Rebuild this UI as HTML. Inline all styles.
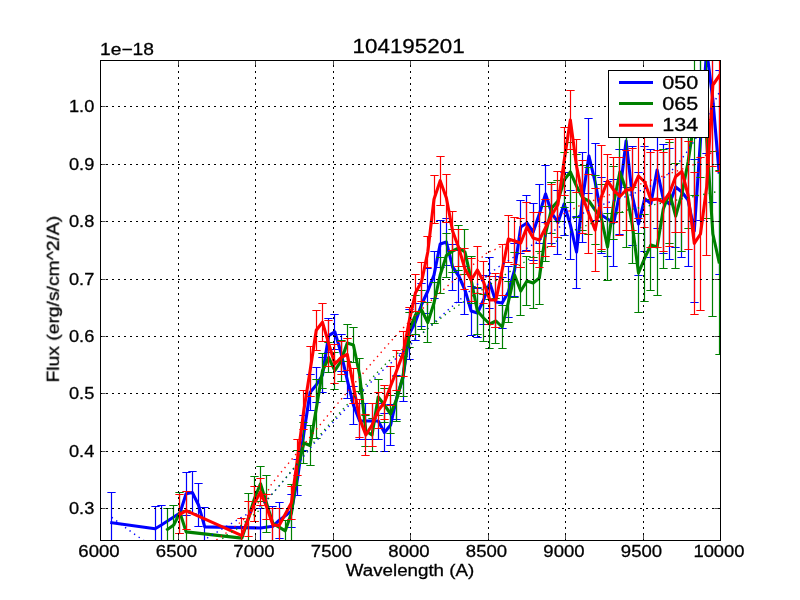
<!DOCTYPE html><html><head><meta charset="utf-8"><style>html,body{margin:0;padding:0;background:#fff;}svg{display:block;}text{font-family:"Liberation Sans",sans-serif;fill:#000;stroke:#000;stroke-width:0.3px;}</style></head><body><svg width="800" height="600" viewBox="0 0 800 600"><rect x="0" y="0" width="800" height="600" fill="#fff"/><defs><filter id="gs" filterUnits="userSpaceOnUse" x="0" y="0" width="800" height="600"><feColorMatrix type="matrix" values="0.333 0.333 0.333 0 0 0.333 0.333 0.333 0 0 0.333 0.333 0.333 0 0 0 0 0 1 0"/></filter><clipPath id="ax"><rect x="100" y="60" width="621" height="481"/></clipPath></defs><g clip-path="url(#ax)"><path d="M111.76 522.7 L155.14 528.75 L161.34 525 L179.93 513 L186.12 493.75 L192.32 492.5 L198.52 505 L204.72 526.9 L260.49 528 L272.88 526.25 L279.08 520.4 L291.47 511 L297.67 477.5 L303.87 433 L310.06 392.5 L316.26 385 L322.46 375 L328.66 335.6 L334.85 331.9 L341.05 353 L347.25 380 L353.44 405 L359.64 421 L365.84 421 L372.03 421 L378.23 421 L384.43 432.5 L390.62 425 L396.82 397.5 L403.02 377.5 L409.22 334 L415.41 322 L421.61 304.5 L427.81 291 L434 275 L440.2 244 L446.4 242 L452.59 267 L458.79 276 L464.99 290 L471.19 311 L477.38 313 L483.58 300 L489.78 283 L495.97 302 L502.17 303 L508.37 292 L514.57 270 L520.76 227 L526.96 223 L533.16 232 L539.35 214 L545.55 194 L551.75 213 L557.94 222.4 L564.14 204 L570.34 224.9 L576.53 252 L582.73 197.5 L588.93 156 L595.13 182 L601.32 215 L607.52 219 L613.72 223 L619.91 192 L626.11 141 L632.31 195.8 L638.5 224 L644.7 198.7 L650.9 203.5 L657.1 170 L663.29 199 L669.49 204 L675.69 187 L681.88 192 L688.08 200 L694.28 231 L700.48 140 L706.67 50 L712.87 100 L719.07 172" stroke="#0000ff" stroke-width="3.1" fill="none" stroke-linejoin="round" stroke-linecap="square"/><path d="M111.5 492.2 V553.2M155.5 506.55 V550.95M161.5 505.3 V544.7M186.5 472.25 V515.25M192.5 471.2 V513.8M198.5 483.6 V526.4M204.5 507.7 V546.1M260.5 508.75 V547.25M272.5 506.25 V546.25M279.5 502.4 V538.4M291.5 494.5 V527.5M297.5 459.5 V495.5M303.5 415.18 V450.82M310.5 374.86 V410.14M316.5 367.54 V402.46M322.5 357.72 V392.28M328.5 318.5 V352.7M334.5 314.32 V349.47M341.5 334.95 V371.05M347.5 361.48 V398.52M353.5 386 V424M359.5 403 V439M365.5 403 V439M372.5 403 V439M378.5 403 V439M384.5 413.1 V451.9M390.5 404.2 V445.8M396.5 375.3 V419.7M403.5 353.9 V401.1M409.5 309 V359M415.5 303.5 V340.5M421.5 283 V326M427.5 268.6 V313.4M434.5 251.7 V298.3M440.5 220.8 V267.2M446.5 218.9 V265.1M452.5 244 V290M458.5 250 V302M464.5 266 V314M471.5 286.72 V335.28M477.5 288.44 V337.56M483.5 275.17 V324.83M489.5 257.89 V308.11M495.5 276.61 V327.39M502.5 277.33 V328.67M508.5 266.06 V317.94M514.5 243.78 V296.22M520.5 200.5 V253.5M526.5 195.25 V250.75M533.5 203.32 V260.68M539.5 184.4 V243.6M545.5 165.25 V222.75M551.5 182.5 V243.5M557.5 190.4 V254.4M564.5 172.4 V235.6M570.5 190.4 V259.4M576.5 216 V288M582.5 152.75 V242.25M588.5 118.4 V193.6M595.5 143.4 V220.6M601.5 177 V253M607.5 181.75 V256.25M613.5 179.6 V266.4M619.5 149.5 V234.5M626.5 94.95 V187.05M632.5 146.2 V245.4M638.5 172.6 V275.4M644.5 146.2 V251.2M650.5 149.75 V257.25M657.5 111.5 V228.5M663.5 144.5 V253.5M669.5 148.6 V259.4M675.5 126.5 V247.5M681.5 126.5 V257.5M688.5 133.75 V266.25M694.5 159.2 V302.8M700.5 60 V220M706.5 -53 V153M712.5 -2.5 V202.5M719.5 70 V274" stroke="#0000ff" stroke-width="1.2" fill="none"/><path d="M107.33 492.5 H115.67 M107.33 553.5 H115.67M151.33 506.5 H159.67 M151.33 550.5 H159.67M157.33 505.5 H165.67 M157.33 544.5 H165.67M182.33 472.5 H190.67 M182.33 515.5 H190.67M188.33 471.5 H196.67 M188.33 513.5 H196.67M194.33 483.5 H202.67 M194.33 526.5 H202.67M200.33 507.5 H208.67 M200.33 546.5 H208.67M256.33 508.5 H264.67 M256.33 547.5 H264.67M268.33 506.5 H276.67 M268.33 546.5 H276.67M275.33 502.5 H283.67 M275.33 538.5 H283.67M287.33 494.5 H295.67 M287.33 527.5 H295.67M293.33 459.5 H301.67 M293.33 495.5 H301.67M299.33 415.5 H307.67 M299.33 450.5 H307.67M306.33 374.5 H314.67 M306.33 410.5 H314.67M312.33 367.5 H320.67 M312.33 402.5 H320.67M318.33 357.5 H326.67 M318.33 392.5 H326.67M324.33 318.5 H332.67 M324.33 352.5 H332.67M330.33 314.5 H338.67 M330.33 349.5 H338.67M337.33 334.5 H345.67 M337.33 371.5 H345.67M343.33 361.5 H351.67 M343.33 398.5 H351.67M349.33 386.5 H357.67 M349.33 424.5 H357.67M355.33 403.5 H363.67 M355.33 439.5 H363.67M361.33 403.5 H369.67 M361.33 439.5 H369.67M368.33 403.5 H376.67 M368.33 439.5 H376.67M374.33 403.5 H382.67 M374.33 439.5 H382.67M380.33 413.5 H388.67 M380.33 451.5 H388.67M386.33 404.5 H394.67 M386.33 445.5 H394.67M392.33 375.5 H400.67 M392.33 419.5 H400.67M399.33 353.5 H407.67 M399.33 401.5 H407.67M405.33 309.5 H413.67 M405.33 359.5 H413.67M411.33 303.5 H419.67 M411.33 340.5 H419.67M417.33 283.5 H425.67 M417.33 326.5 H425.67M423.33 268.5 H431.67 M423.33 313.5 H431.67M430.33 251.5 H438.67 M430.33 298.5 H438.67M436.33 220.5 H444.67 M436.33 267.5 H444.67M442.33 218.5 H450.67 M442.33 265.5 H450.67M448.33 244.5 H456.67 M448.33 290.5 H456.67M454.33 250.5 H462.67 M454.33 302.5 H462.67M460.33 266.5 H468.67 M460.33 314.5 H468.67M467.33 286.5 H475.67 M467.33 335.5 H475.67M473.33 288.5 H481.67 M473.33 337.5 H481.67M479.33 275.5 H487.67 M479.33 324.5 H487.67M485.33 257.5 H493.67 M485.33 308.5 H493.67M491.33 276.5 H499.67 M491.33 327.5 H499.67M498.33 277.5 H506.67 M498.33 328.5 H506.67M504.33 266.5 H512.67 M504.33 317.5 H512.67M510.33 243.5 H518.67 M510.33 296.5 H518.67M516.33 200.5 H524.67 M516.33 253.5 H524.67M522.33 195.5 H530.67 M522.33 250.5 H530.67M529.33 203.5 H537.67 M529.33 260.5 H537.67M535.33 184.5 H543.67 M535.33 243.5 H543.67M541.33 165.5 H549.67 M541.33 222.5 H549.67M547.33 182.5 H555.67 M547.33 243.5 H555.67M553.33 190.5 H561.67 M553.33 254.5 H561.67M560.33 172.5 H568.67 M560.33 235.5 H568.67M566.33 190.5 H574.67 M566.33 259.5 H574.67M572.33 216.5 H580.67 M572.33 288.5 H580.67M578.33 152.5 H586.67 M578.33 242.5 H586.67M584.33 118.5 H592.67 M584.33 193.5 H592.67M591.33 143.5 H599.67 M591.33 220.5 H599.67M597.33 177.5 H605.67 M597.33 253.5 H605.67M603.33 181.5 H611.67 M603.33 256.5 H611.67M609.33 179.5 H617.67 M609.33 266.5 H617.67M615.33 149.5 H623.67 M615.33 234.5 H623.67M622.33 94.5 H630.67 M622.33 187.5 H630.67M628.33 146.5 H636.67 M628.33 245.5 H636.67M634.33 172.5 H642.67 M634.33 275.5 H642.67M640.33 146.5 H648.67 M640.33 251.5 H648.67M646.33 149.5 H654.67 M646.33 257.5 H654.67M653.33 111.5 H661.67 M653.33 228.5 H661.67M659.33 144.5 H667.67 M659.33 253.5 H667.67M665.33 148.5 H673.67 M665.33 259.5 H673.67M671.33 126.5 H679.67 M671.33 247.5 H679.67M677.33 126.5 H685.67 M677.33 257.5 H685.67M684.33 133.5 H692.67 M684.33 266.5 H692.67M690.33 159.5 H698.67 M690.33 302.5 H698.67M696.33 60.5 H704.67 M696.33 220.5 H704.67M702.33 -52.5 H710.67 M702.33 153.5 H710.67M708.33 -2.5 H716.67 M708.33 202.5 H716.67M715.33 70.5 H723.67 M715.33 274.5 H723.67" stroke="#0000ff" stroke-width="1" fill="none"/><path d="M167.53 529.4 L173.73 525 L179.93 512.5 L186.12 531.9 L241.9 538.1 L248.09 519.3 L254.29 499 L260.49 483.75 L266.69 503.75 L272.88 523.3 L285.28 530.8 L291.47 513 L297.67 467.8 L303.87 443 L310.06 445.5 L316.26 408.75 L322.46 371 L328.66 357.5 L334.85 370.6 L341.05 361 L347.25 343.1 L353.44 345 L359.64 375 L365.84 431 L372.03 435 L378.23 397 L384.43 405 L390.62 414 L396.82 398.75 L403.02 376.25 L409.22 330 L415.41 315 L421.61 310 L427.81 322.5 L434 303 L440.2 275 L446.4 255.5 L452.59 251 L458.79 248 L464.99 252 L471.19 280 L477.38 311 L483.58 318 L489.78 324 L495.97 321 L502.17 327 L508.37 302 L514.57 275 L520.76 291 L526.96 281 L533.16 283 L539.35 278 L545.55 233.75 L551.75 208 L557.94 201 L564.14 180 L570.34 172 L576.53 186 L582.73 198 L588.93 201 L595.13 210 L601.32 218 L607.52 247 L613.72 203 L619.91 172 L626.11 190 L632.31 225 L638.5 273 L644.7 258 L650.9 245 L657.1 247 L663.29 209 L669.49 193 L675.69 216 L681.88 194 L688.08 162 L694.28 120 L700.48 100 L706.67 138 L712.87 234 L719.07 262" stroke="#008000" stroke-width="3.1" fill="none" stroke-linejoin="round" stroke-linecap="square"/><path d="M167.5 508.4 V550.4M173.5 505 V545M179.5 492 V533M186.5 510.92 V552.88M248.5 493.5 V545.1M254.5 476.25 V521.75M260.5 466.5 V501M266.5 475.25 V532.25M285.5 520.8 V540.8M291.5 484.4 V541.6M297.5 450.2 V485.4M303.5 422.5 V463.5M310.5 425.25 V465.75M316.5 379 V438.5M322.5 353.5 V388.5M328.5 342.5 V372.5M334.5 352.2 V389M341.5 340.5 V381.5M347.5 324.3 V361.9M353.5 327.37 V362.63M359.5 358.53 V391.47M365.5 415.7 V446.3M372.5 418.35 V451.65M378.5 379 V415M384.5 388 V422M390.5 395 V433M396.5 376.15 V421.35M403.5 356.05 V396.45M409.5 312.2 V347.8M415.5 295.5 V334.5M421.5 290.17 V329.83M427.5 302.33 V342.67M434.5 282.5 V323.5M440.5 257 V293M446.5 233.5 V277.5M452.5 229.3 V272.7M458.5 225.86 V270.14M464.5 229.42 V274.58M471.5 256.98 V303.02M477.5 287.54 V334.46M483.5 294.1 V341.9M489.5 299.9 V348.1M495.5 298.13 V343.87M502.5 305.37 V348.63M508.5 281.6 V322.4M514.5 252.8 V297.2M520.5 267 V315M526.5 256.12 V305.88M533.5 257.25 V308.75M539.5 251.38 V304.62M545.5 206.25 V261.25M551.5 182.5 V233.5M557.5 180.4 V221.6M564.5 152.25 V207.75M570.5 142 V202M576.5 154.9 V217.1M582.5 165.8 V230.2M588.5 167.7 V234.3M595.5 175.6 V244.4M601.5 184.75 V251.25M607.5 213.75 V280.25M613.5 166.38 V239.62M619.5 132 V212M626.5 133 V247M632.5 187 V263M638.5 233.25 V312.75M644.5 214.75 V301.25M650.5 199.18 V290.82M657.5 198.6 V295.4M663.5 149.2 V268.8M669.5 142.6 V243.4M675.5 163.2 V268.8M681.5 137 V251M688.5 96 V228M694.5 45 V195M700.5 22.4 V177.6M706.5 57.8 V218.2M712.5 151.2 V316.8M719.5 170 V354" stroke="#008000" stroke-width="1.2" fill="none"/><path d="M163.33 508.5 H171.67 M163.33 550.5 H171.67M169.33 505.5 H177.67 M169.33 545.5 H177.67M175.33 492.5 H183.67 M175.33 533.5 H183.67M182.33 510.5 H190.67 M182.33 552.5 H190.67M244.33 493.5 H252.67 M244.33 545.5 H252.67M250.33 476.5 H258.67 M250.33 521.5 H258.67M256.33 466.5 H264.67 M256.33 501.5 H264.67M262.33 475.5 H270.67 M262.33 532.5 H270.67M281.33 520.5 H289.67 M281.33 540.5 H289.67M287.33 484.5 H295.67 M287.33 541.5 H295.67M293.33 450.5 H301.67 M293.33 485.5 H301.67M299.33 422.5 H307.67 M299.33 463.5 H307.67M306.33 425.5 H314.67 M306.33 465.5 H314.67M312.33 379.5 H320.67 M312.33 438.5 H320.67M318.33 353.5 H326.67 M318.33 388.5 H326.67M324.33 342.5 H332.67 M324.33 372.5 H332.67M330.33 352.5 H338.67 M330.33 389.5 H338.67M337.33 340.5 H345.67 M337.33 381.5 H345.67M343.33 324.5 H351.67 M343.33 361.5 H351.67M349.33 327.5 H357.67 M349.33 362.5 H357.67M355.33 358.5 H363.67 M355.33 391.5 H363.67M361.33 415.5 H369.67 M361.33 446.5 H369.67M368.33 418.5 H376.67 M368.33 451.5 H376.67M374.33 379.5 H382.67 M374.33 415.5 H382.67M380.33 388.5 H388.67 M380.33 422.5 H388.67M386.33 395.5 H394.67 M386.33 433.5 H394.67M392.33 376.5 H400.67 M392.33 421.5 H400.67M399.33 356.5 H407.67 M399.33 396.5 H407.67M405.33 312.5 H413.67 M405.33 347.5 H413.67M411.33 295.5 H419.67 M411.33 334.5 H419.67M417.33 290.5 H425.67 M417.33 329.5 H425.67M423.33 302.5 H431.67 M423.33 342.5 H431.67M430.33 282.5 H438.67 M430.33 323.5 H438.67M436.33 257.5 H444.67 M436.33 293.5 H444.67M442.33 233.5 H450.67 M442.33 277.5 H450.67M448.33 229.5 H456.67 M448.33 272.5 H456.67M454.33 225.5 H462.67 M454.33 270.5 H462.67M460.33 229.5 H468.67 M460.33 274.5 H468.67M467.33 256.5 H475.67 M467.33 303.5 H475.67M473.33 287.5 H481.67 M473.33 334.5 H481.67M479.33 294.5 H487.67 M479.33 341.5 H487.67M485.33 299.5 H493.67 M485.33 348.5 H493.67M491.33 298.5 H499.67 M491.33 343.5 H499.67M498.33 305.5 H506.67 M498.33 348.5 H506.67M504.33 281.5 H512.67 M504.33 322.5 H512.67M510.33 252.5 H518.67 M510.33 297.5 H518.67M516.33 267.5 H524.67 M516.33 315.5 H524.67M522.33 256.5 H530.67 M522.33 305.5 H530.67M529.33 257.5 H537.67 M529.33 308.5 H537.67M535.33 251.5 H543.67 M535.33 304.5 H543.67M541.33 206.5 H549.67 M541.33 261.5 H549.67M547.33 182.5 H555.67 M547.33 233.5 H555.67M553.33 180.5 H561.67 M553.33 221.5 H561.67M560.33 152.5 H568.67 M560.33 207.5 H568.67M566.33 142.5 H574.67 M566.33 202.5 H574.67M572.33 154.5 H580.67 M572.33 217.5 H580.67M578.33 165.5 H586.67 M578.33 230.5 H586.67M584.33 167.5 H592.67 M584.33 234.5 H592.67M591.33 175.5 H599.67 M591.33 244.5 H599.67M597.33 184.5 H605.67 M597.33 251.5 H605.67M603.33 213.5 H611.67 M603.33 280.5 H611.67M609.33 166.5 H617.67 M609.33 239.5 H617.67M615.33 132.5 H623.67 M615.33 212.5 H623.67M622.33 133.5 H630.67 M622.33 247.5 H630.67M628.33 187.5 H636.67 M628.33 263.5 H636.67M634.33 233.5 H642.67 M634.33 312.5 H642.67M640.33 214.5 H648.67 M640.33 301.5 H648.67M646.33 199.5 H654.67 M646.33 290.5 H654.67M653.33 198.5 H661.67 M653.33 295.5 H661.67M659.33 149.5 H667.67 M659.33 268.5 H667.67M665.33 142.5 H673.67 M665.33 243.5 H673.67M671.33 163.5 H679.67 M671.33 268.5 H679.67M677.33 137.5 H685.67 M677.33 251.5 H685.67M684.33 96.5 H692.67 M684.33 228.5 H692.67M690.33 45.5 H698.67 M690.33 195.5 H698.67M696.33 22.5 H704.67 M696.33 177.5 H704.67M702.33 57.5 H710.67 M702.33 218.5 H710.67M708.33 151.5 H716.67 M708.33 316.5 H716.67M715.33 170.5 H723.67 M715.33 354.5 H723.67" stroke="#008000" stroke-width="1" fill="none"/><path d="M179.93 514.4 L186.12 510.6 L241.9 535.6 L248.09 518.9 L254.29 503.5 L260.49 492 L266.69 507 L272.88 525 L279.08 525.5 L291.47 502.8 L297.67 457.3 L303.87 410 L310.06 371 L316.26 330.3 L322.46 322.2 L328.66 343.4 L334.85 364 L341.05 357.5 L347.25 354.4 L353.44 386 L359.64 418.75 L365.84 435 L372.03 425 L378.23 410.5 L384.43 402.5 L390.62 386 L396.82 370.25 L403.02 353.75 L409.22 321 L415.41 293 L421.61 281.5 L427.81 252 L434 199.3 L440.2 180.7 L446.4 198 L452.59 231 L458.79 248 L464.99 269 L471.19 280 L477.38 270 L483.58 282 L489.78 300 L495.97 300 L502.17 270 L508.37 239 L514.57 241 L520.76 243 L526.96 227 L533.16 238 L539.35 240 L545.55 227.8 L551.75 215.3 L557.94 204.5 L564.14 161 L570.34 120 L576.53 166 L582.73 197 L588.93 214 L595.13 230 L601.32 197 L607.52 181 L613.72 190 L619.91 196.5 L626.11 190 L632.31 189.6 L638.5 176 L644.7 182 L650.9 200 L657.1 199 L663.29 202 L669.49 193 L675.69 176.5 L681.88 171.5 L688.08 195 L694.28 243.4 L700.48 234 L706.67 187 L712.87 85 L719.07 76" stroke="#ff0000" stroke-width="3.1" fill="none" stroke-linejoin="round" stroke-linecap="square"/><path d="M179.5 494.9 V533.9M186.5 491.6 V529.6M241.5 518.5 V552.7M248.5 501.3 V536.5M254.5 486 V521M260.5 478.25 V505.75M266.5 494.4 V519.6M272.5 508 V542M279.5 508.75 V542.25M291.5 486.2 V519.4M297.5 439.3 V475.3M303.5 390.6 V429.4M310.5 346 V396M316.5 310.3 V350.3M322.5 303.2 V341.2M328.5 320 V366.8M334.5 344.05 V383.95M341.5 341 V374M347.5 338.4 V370.4M353.5 368.57 V403.43M359.5 399.9 V437.6M365.5 414.73 V455.27M372.5 403.3 V446.7M378.5 392.5 V428.5M384.5 385.25 V419.75M390.5 366.25 V405.75M396.5 350.25 V390.25M403.5 331.25 V376.25M409.5 307 V335M415.5 274.5 V311.5M421.5 262 V301M427.5 236.4 V267.6M434.5 175.6 V223M440.5 156.4 V205M446.5 174 V222M452.5 211.6 V250.4M458.5 229.6 V266.4M464.5 248.9 V289.1M471.5 258.2 V301.8M477.5 246.5 V293.5M483.5 261 V303M489.5 276 V324M495.5 273 V327M502.5 244.75 V295.25M508.5 215.5 V262.5M514.5 217.13 V264.87M520.5 218.77 V267.23M526.5 202.4 V251.6M533.5 212.13 V263.87M539.5 212.87 V267.13M545.5 199.4 V256.2M551.5 184.4 V246.2M557.5 171.5 V237.5M564.5 127 V195M570.5 90.4 V149.6M576.5 139.4 V192.6M582.5 160.5 V233.5M588.5 174.5 V253.5M595.5 188.5 V271.5M601.5 145 V249M607.5 154.4 V207.6M613.5 157.32 V222.68M619.5 157.75 V235.25M626.5 150 V230M632.5 148.35 V230.85M638.5 133.5 V218.5M644.5 136.75 V227.25M650.5 152.75 V247.25M657.5 150.75 V247.25M663.5 152.4 V251.6M669.5 139.5 V246.5M675.5 120.75 V232.25M681.5 110.75 V232.25M688.5 141 V249M694.5 172.4 V314.4M700.5 157.6 V310.4M706.5 119 V255M712.5 3.5 V166.5M719.5 -19 V171" stroke="#ff0000" stroke-width="1.2" fill="none"/><path d="M175.33 494.5 H183.67 M175.33 533.5 H183.67M182.33 491.5 H190.67 M182.33 529.5 H190.67M237.33 518.5 H245.67 M237.33 552.5 H245.67M244.33 501.5 H252.67 M244.33 536.5 H252.67M250.33 486.5 H258.67 M250.33 521.5 H258.67M256.33 478.5 H264.67 M256.33 505.5 H264.67M262.33 494.5 H270.67 M262.33 519.5 H270.67M268.33 508.5 H276.67 M268.33 542.5 H276.67M275.33 508.5 H283.67 M275.33 542.5 H283.67M287.33 486.5 H295.67 M287.33 519.5 H295.67M293.33 439.5 H301.67 M293.33 475.5 H301.67M299.33 390.5 H307.67 M299.33 429.5 H307.67M306.33 346.5 H314.67 M306.33 396.5 H314.67M312.33 310.5 H320.67 M312.33 350.5 H320.67M318.33 303.5 H326.67 M318.33 341.5 H326.67M324.33 320.5 H332.67 M324.33 366.5 H332.67M330.33 344.5 H338.67 M330.33 383.5 H338.67M337.33 341.5 H345.67 M337.33 374.5 H345.67M343.33 338.5 H351.67 M343.33 370.5 H351.67M349.33 368.5 H357.67 M349.33 403.5 H357.67M355.33 399.5 H363.67 M355.33 437.5 H363.67M361.33 414.5 H369.67 M361.33 455.5 H369.67M368.33 403.5 H376.67 M368.33 446.5 H376.67M374.33 392.5 H382.67 M374.33 428.5 H382.67M380.33 385.5 H388.67 M380.33 419.5 H388.67M386.33 366.5 H394.67 M386.33 405.5 H394.67M392.33 350.5 H400.67 M392.33 390.5 H400.67M399.33 331.5 H407.67 M399.33 376.5 H407.67M405.33 307.5 H413.67 M405.33 335.5 H413.67M411.33 274.5 H419.67 M411.33 311.5 H419.67M417.33 262.5 H425.67 M417.33 301.5 H425.67M423.33 236.5 H431.67 M423.33 267.5 H431.67M430.33 175.5 H438.67 M430.33 223.5 H438.67M436.33 156.5 H444.67 M436.33 205.5 H444.67M442.33 174.5 H450.67 M442.33 222.5 H450.67M448.33 211.5 H456.67 M448.33 250.5 H456.67M454.33 229.5 H462.67 M454.33 266.5 H462.67M460.33 248.5 H468.67 M460.33 289.5 H468.67M467.33 258.5 H475.67 M467.33 301.5 H475.67M473.33 246.5 H481.67 M473.33 293.5 H481.67M479.33 261.5 H487.67 M479.33 303.5 H487.67M485.33 276.5 H493.67 M485.33 324.5 H493.67M491.33 273.5 H499.67 M491.33 327.5 H499.67M498.33 244.5 H506.67 M498.33 295.5 H506.67M504.33 215.5 H512.67 M504.33 262.5 H512.67M510.33 217.5 H518.67 M510.33 264.5 H518.67M516.33 218.5 H524.67 M516.33 267.5 H524.67M522.33 202.5 H530.67 M522.33 251.5 H530.67M529.33 212.5 H537.67 M529.33 263.5 H537.67M535.33 212.5 H543.67 M535.33 267.5 H543.67M541.33 199.5 H549.67 M541.33 256.5 H549.67M547.33 184.5 H555.67 M547.33 246.5 H555.67M553.33 171.5 H561.67 M553.33 237.5 H561.67M560.33 127.5 H568.67 M560.33 195.5 H568.67M566.33 90.5 H574.67 M566.33 149.5 H574.67M572.33 139.5 H580.67 M572.33 192.5 H580.67M578.33 160.5 H586.67 M578.33 233.5 H586.67M584.33 174.5 H592.67 M584.33 253.5 H592.67M591.33 188.5 H599.67 M591.33 271.5 H599.67M597.33 145.5 H605.67 M597.33 249.5 H605.67M603.33 154.5 H611.67 M603.33 207.5 H611.67M609.33 157.5 H617.67 M609.33 222.5 H617.67M615.33 157.5 H623.67 M615.33 235.5 H623.67M622.33 150.5 H630.67 M622.33 230.5 H630.67M628.33 148.5 H636.67 M628.33 230.5 H636.67M634.33 133.5 H642.67 M634.33 218.5 H642.67M640.33 136.5 H648.67 M640.33 227.5 H648.67M646.33 152.5 H654.67 M646.33 247.5 H654.67M653.33 150.5 H661.67 M653.33 247.5 H661.67M659.33 152.5 H667.67 M659.33 251.5 H667.67M665.33 139.5 H673.67 M665.33 246.5 H673.67M671.33 120.5 H679.67 M671.33 232.5 H679.67M677.33 110.5 H685.67 M677.33 232.5 H685.67M684.33 141.5 H692.67 M684.33 249.5 H692.67M690.33 172.5 H698.67 M690.33 314.5 H698.67M696.33 157.5 H704.67 M696.33 310.5 H704.67M702.33 119.5 H710.67 M702.33 255.5 H710.67M708.33 3.5 H716.67 M708.33 166.5 H716.67M715.33 -18.5 H723.67 M715.33 171.5 H723.67" stroke="#ff0000" stroke-width="1" fill="none"/><path d="M111.7 517.3 L114.07 519.05 L117.17 521.4 L120.86 524.19 L124.98 527.29 L129.4 530.54 L133.95 533.81 L138.5 536.94 L142.9 539.8 L147.33 542.72 L152.03 545.97 L156.88 549.35 L161.79 552.61 L166.66 555.53 L171.39 557.89 L175.87 559.45 L180 560 L183.87 559.26 L187.6 557.34 L191.17 554.56 L194.56 551.25 L197.73 547.73 L200.66 544.33 L203.33 541.38 L205.7 539.2 L207.66 537.74 L209.17 536.68 L210.35 535.9 L211.32 535.33 L212.21 534.84 L213.12 534.36 L214.18 533.78 L215.5 533 L217.05 532.06 L218.71 531.06 L220.45 530.03 L222.25 528.96 L224.09 527.88 L225.94 526.78 L227.78 525.68 L229.6 524.6 L231.4 523.52 L233.22 522.42 L235.06 521.31 L236.89 520.19 L238.73 519.08 L240.57 517.97 L242.39 516.88 L244.2 515.8 L246.01 514.76 L247.83 513.76 L249.66 512.79 L251.47 511.82 L253.26 510.82 L255.02 509.79 L256.74 508.69 L258.4 507.5 L259.93 506.31 L261.3 505.17 L262.58 504.03 L263.85 502.81 L265.18 501.46 L266.65 499.92 L268.31 498.12 L270.25 496 L272.57 493.42 L275.26 490.36 L278.19 486.98 L281.23 483.45 L284.25 479.9 L287.14 476.5 L289.76 473.4 L292 470.75 L293.75 468.66 L295.1 467.01 L296.18 465.66 L297.12 464.46 L298.07 463.26 L299.15 461.9 L300.5 460.23 L302.25 458.1 L304.23 455.68 L306.23 453.2 L308.34 450.56 L310.67 447.68 L313.31 444.49 L316.34 440.91 L319.87 436.86 L324 432.25 L329.03 426.74 L335.02 420.24 L341.65 413.11 L348.61 405.67 L355.59 398.25 L362.27 391.19 L368.34 384.83 L373.5 379.5 L377.61 375.35 L380.91 372.11 L383.64 369.53 L386.06 367.33 L388.41 365.24 L390.94 363.01 L393.88 360.35 L397.5 357 L401.91 352.86 L406.92 348.13 L412.34 343.03 L417.94 337.75 L423.52 332.5 L428.86 327.49 L433.76 322.92 L438 319 L441.47 315.83 L444.33 313.25 L446.75 311.1 L448.94 309.19 L451.07 307.35 L453.33 305.41 L455.91 303.18 L459 300.5 L462.69 297.27 L466.84 293.61 L471.3 289.68 L475.89 285.64 L480.47 281.65 L484.87 277.85 L488.93 274.42 L492.5 271.5 L495.55 269.13 L498.23 267.16 L500.62 265.51 L502.81 264.08 L504.89 262.78 L506.93 261.52 L509.02 260.21 L511.25 258.75 L513.48 257.25 L515.57 255.86 L517.61 254.5 L519.66 253.13 L521.82 251.71 L524.17 250.16 L526.79 248.44 L529.75 246.5 L533.14 244.27 L536.9 241.78 L540.94 239.11 L545.16 236.32 L549.47 233.5 L553.76 230.73 L557.93 228.07 L561.9 225.6 L565.77 223.25 L569.7 220.9 L573.61 218.59 L577.46 216.37 L581.18 214.26 L584.72 212.3 L588.01 210.54 L591 209 L593.52 207.78 L595.56 206.88 L597.28 206.22 L598.85 205.68 L600.44 205.19 L602.22 204.64 L604.35 203.94 L607 203 L610.22 201.86 L613.86 200.62 L617.82 199.3 L621.98 197.89 L626.24 196.41 L630.49 194.84 L634.61 193.2 L638.5 191.5 L642.2 189.82 L645.82 188.19 L649.38 186.53 L652.89 184.78 L656.38 182.85 L659.85 180.66 L663.32 178.14 L666.8 175.2 L670.31 171.84 L673.85 168.12 L677.4 164.09 L680.92 159.79 L684.41 155.27 L687.83 150.57 L691.17 145.73 L694.4 140.8 L697.61 135.48 L700.86 129.61 L704.08 123.42 L707.21 117.14 L710.18 111 L712.93 105.25 L715.39 100.1 L717.5 95.8 L719.24 92.32 L720.65 89.43 L721.78 87.04 L722.69 85.09 L723.42 83.48 L724.02 82.15 L724.53 81.02 L725 80" stroke="#0000ff" stroke-width="1.4" stroke-dasharray="1.39 4.17" fill="none"/><path d="M210 550 L211.36 548.76 L213.23 547.05 L215.45 545 L217.89 542.76 L220.41 540.48 L222.86 538.3 L225.11 536.35 L227 534.8 L228.54 533.66 L229.88 532.8 L231.06 532.15 L232.14 531.61 L233.19 531.11 L234.26 530.57 L235.41 529.89 L236.7 529 L238.13 527.88 L239.66 526.61 L241.25 525.24 L242.87 523.81 L244.49 522.36 L246.07 520.94 L247.58 519.61 L249 518.4 L250.31 517.35 L251.54 516.42 L252.71 515.58 L253.84 514.76 L254.95 513.94 L256.07 513.05 L257.21 512.05 L258.4 510.9 L259.55 509.67 L260.61 508.45 L261.65 507.18 L262.71 505.82 L263.87 504.32 L265.17 502.64 L266.7 500.71 L268.5 498.5 L270.55 496.03 L272.79 493.37 L275.21 490.5 L277.8 487.43 L280.56 484.15 L283.47 480.65 L286.54 476.94 L289.75 473 L293.03 468.87 L296.36 464.58 L299.8 460.08 L303.42 455.36 L307.29 450.39 L311.46 445.15 L316.01 439.61 L321 433.75 L326.74 427.22 L333.3 419.9 L340.38 412.09 L347.7 404.11 L354.97 396.25 L361.88 388.83 L368.16 382.14 L373.5 376.5 L377.73 372.07 L381.06 368.62 L383.75 365.89 L386.09 363.61 L388.36 361.5 L390.83 359.29 L393.79 356.72 L397.5 353.5 L402.1 349.57 L407.38 345.16 L413.11 340.44 L419.06 335.59 L425 330.8 L430.71 326.23 L435.95 322.07 L440.5 318.5 L444.08 315.71 L446.78 313.61 L448.95 311.97 L450.92 310.53 L453.03 309.06 L455.6 307.31 L458.98 305.04 L463.5 302 L469.57 297.95 L477.03 293.02 L485.41 287.52 L494.2 281.77 L502.93 276.07 L511.08 270.75 L518.19 266.12 L523.75 262.5 L527.63 259.98 L530.24 258.3 L531.9 257.25 L532.95 256.61 L533.7 256.16 L534.49 255.67 L535.65 254.94 L537.5 253.75 L540 252.11 L542.82 250.24 L545.86 248.21 L549.01 246.11 L552.16 244.01 L555.22 241.99 L558.06 240.13 L560.6 238.5 L562.59 237.18 L564.05 236.12 L565.2 235.24 L566.31 234.42 L567.59 233.59 L569.31 232.63 L571.7 231.47 L575 230 L579.53 228.11 L585.18 225.84 L591.6 223.33 L598.4 220.72 L605.21 218.14 L611.67 215.74 L617.39 213.65 L622 212 L625 210.93 L626.52 210.34 L627.15 210.09 L627.5 210 L628.16 209.91 L629.73 209.66 L632.81 209.07 L638 208 L646.07 206.3 L656.8 204.06 L669.25 201.48 L682.5 198.75 L695.63 196.05 L707.7 193.56 L717.8 191.48 L725 190" stroke="#008000" stroke-width="1.4" stroke-dasharray="1.39 4.17" fill="none"/><path d="M200 555 L201.35 553.76 L203.19 552.05 L205.4 550.01 L207.82 547.77 L210.31 545.48 L212.73 543.28 L214.94 541.31 L216.8 539.7 L218.26 538.5 L219.46 537.58 L220.47 536.87 L221.39 536.25 L222.33 535.65 L223.36 534.97 L224.59 534.11 L226.1 533 L227.93 531.64 L230.02 530.13 L232.28 528.49 L234.64 526.75 L237.05 524.94 L239.42 523.07 L241.7 521.18 L243.8 519.3 L245.77 517.37 L247.68 515.34 L249.53 513.26 L251.33 511.14 L253.08 509.03 L254.77 506.95 L256.41 504.93 L258 503 L259.47 501.23 L260.8 499.6 L262.04 498.07 L263.25 496.55 L264.47 494.99 L265.76 493.32 L267.17 491.48 L268.75 489.4 L269.84 487.84 L270.11 487.19 L270.1 486.82 L270.36 486.12 L271.43 484.45 L273.87 481.21 L278.21 475.77 L285 467.5 L294.88 455.52 L307.58 440.02 L322.35 422.05 L338.4 402.63 L354.96 382.81 L371.26 363.62 L386.53 346.08 L400 331.25 L412.28 318.57 L424.38 306.84 L436.09 296.06 L447.23 286.27 L457.57 277.47 L466.93 269.69 L475.11 262.94 L481.9 257.25 L486.51 253.27 L488.78 251.28 L489.5 250.68 L489.41 250.92 L489.3 251.42 L489.93 251.61 L492.08 250.91 L496.5 248.75 L503.69 244.97 L513.11 240.03 L524.03 234.33 L535.69 228.25 L547.37 222.19 L558.31 216.54 L567.77 211.68 L575 208 L579.38 205.74 L581.35 204.64 L581.77 204.31 L581.49 204.4 L581.36 204.53 L582.25 204.33 L585.01 203.45 L590.5 201.5 L599.44 198.31 L611.33 194.14 L625.18 189.31 L639.99 184.14 L654.79 178.95 L668.59 174.05 L680.39 169.76 L689.2 166.4 L694.93 163.96 L698.46 162.13 L700.32 160.79 L701.02 159.81 L701.06 159.05 L700.96 158.38 L701.24 157.67 L702.4 156.8 L704.26 155.84 L706.24 154.95 L708.3 154.12 L710.36 153.34 L712.38 152.59 L714.3 151.85 L716.06 151.13 L717.6 150.4 L718.95 149.64 L720.17 148.85 L721.27 148.06 L722.25 147.3 L723.11 146.59 L723.85 145.95 L724.48 145.41 L725 145" stroke="#ff0000" stroke-width="1.4" stroke-dasharray="1.39 4.17" fill="none"/></g><path d="M100.5 541 V60M178.5 541 V60M255.5 541 V60M333.5 541 V60M410.5 541 V60M488.5 541 V60M565.5 541 V60M643.5 541 V60M720.5 541 V60M100 106.5 H721M100 164.5 H721M100 221.5 H721M100 279.5 H721M100 336.5 H721M100 393.5 H721M100 451.5 H721M100 508.5 H721" stroke="#000" stroke-width="1" stroke-dasharray="2 4" fill="none"/><path d="M100.5 540 V534.4 M100.5 60 V65.6M178.5 540 V534.4 M178.5 60 V65.6M255.5 540 V534.4 M255.5 60 V65.6M333.5 540 V534.4 M333.5 60 V65.6M410.5 540 V534.4 M410.5 60 V65.6M488.5 540 V534.4 M488.5 60 V65.6M565.5 540 V534.4 M565.5 60 V65.6M643.5 540 V534.4 M643.5 60 V65.6M720.5 540 V534.4 M720.5 60 V65.6M100 106.5 H105.6 M720 106.5 H714.4M100 164.5 H105.6 M720 164.5 H714.4M100 221.5 H105.6 M720 221.5 H714.4M100 279.5 H105.6 M720 279.5 H714.4M100 336.5 H105.6 M720 336.5 H714.4M100 393.5 H105.6 M720 393.5 H714.4M100 451.5 H105.6 M720 451.5 H714.4M100 508.5 H105.6 M720 508.5 H714.4" stroke="#000" stroke-width="0.7" fill="none"/><rect x="100.5" y="60.5" width="620" height="480" fill="none" stroke="#000" stroke-width="1"/><rect x="608.5" y="70.5" width="100" height="67" fill="#fff" stroke="#000" stroke-width="1"/><path d="M619 82.5 H653" stroke="#0000ff" stroke-width="3"/><path d="M619 103.5 H653" stroke="#008000" stroke-width="3"/><path d="M619 125.25 H653" stroke="#ff0000" stroke-width="3"/><g filter="url(#gs)"><text x="352.6" y="53.1" font-size="20.5" textLength="112" lengthAdjust="spacingAndGlyphs">104195201</text><text x="100" y="55" font-size="16.5" textLength="54" lengthAdjust="spacingAndGlyphs">1e−18</text><text x="94.3" y="112.1" font-size="17.3" text-anchor="end" textLength="25.3" lengthAdjust="spacingAndGlyphs">1.0</text><text x="94.3" y="170.1" font-size="17.3" text-anchor="end" textLength="25.3" lengthAdjust="spacingAndGlyphs">0.9</text><text x="94.3" y="227.1" font-size="17.3" text-anchor="end" textLength="25.3" lengthAdjust="spacingAndGlyphs">0.8</text><text x="94.3" y="285.1" font-size="17.3" text-anchor="end" textLength="25.3" lengthAdjust="spacingAndGlyphs">0.7</text><text x="94.3" y="342.1" font-size="17.3" text-anchor="end" textLength="25.3" lengthAdjust="spacingAndGlyphs">0.6</text><text x="94.3" y="399.1" font-size="17.3" text-anchor="end" textLength="25.3" lengthAdjust="spacingAndGlyphs">0.5</text><text x="94.3" y="457.1" font-size="17.3" text-anchor="end" textLength="25.3" lengthAdjust="spacingAndGlyphs">0.4</text><text x="94.3" y="514.1" font-size="17.3" text-anchor="end" textLength="25.3" lengthAdjust="spacingAndGlyphs">0.3</text><text x="99" y="556.8" font-size="17.3" text-anchor="middle" textLength="41.3" lengthAdjust="spacingAndGlyphs">6000</text><text x="176.5" y="556.8" font-size="17.3" text-anchor="middle" textLength="41.3" lengthAdjust="spacingAndGlyphs">6500</text><text x="254" y="556.8" font-size="17.3" text-anchor="middle" textLength="41.3" lengthAdjust="spacingAndGlyphs">7000</text><text x="331.5" y="556.8" font-size="17.3" text-anchor="middle" textLength="41.3" lengthAdjust="spacingAndGlyphs">7500</text><text x="409" y="556.8" font-size="17.3" text-anchor="middle" textLength="41.3" lengthAdjust="spacingAndGlyphs">8000</text><text x="486.5" y="556.8" font-size="17.3" text-anchor="middle" textLength="41.3" lengthAdjust="spacingAndGlyphs">8500</text><text x="564" y="556.8" font-size="17.3" text-anchor="middle" textLength="41.3" lengthAdjust="spacingAndGlyphs">9000</text><text x="641.5" y="556.8" font-size="17.3" text-anchor="middle" textLength="41.3" lengthAdjust="spacingAndGlyphs">9500</text><text x="719" y="556.8" font-size="17.3" text-anchor="middle" textLength="51.2" lengthAdjust="spacingAndGlyphs">10000</text><text x="410" y="576" font-size="17.3" text-anchor="middle" textLength="128.4" lengthAdjust="spacingAndGlyphs">Wavelength (A)</text><text transform="translate(58.8 299.25) rotate(-90)" x="0" y="0" font-size="17.3" text-anchor="middle" textLength="166.7" lengthAdjust="spacingAndGlyphs">Flux (erg/s/cm^2/A)</text><text x="662.2" y="88.7" font-size="18.2" textLength="36" lengthAdjust="spacingAndGlyphs">050</text><text x="662.2" y="109.7" font-size="18.2" textLength="36" lengthAdjust="spacingAndGlyphs">065</text><text x="662.2" y="131.45" font-size="18.2" textLength="36" lengthAdjust="spacingAndGlyphs">134</text></g></svg></body></html>
